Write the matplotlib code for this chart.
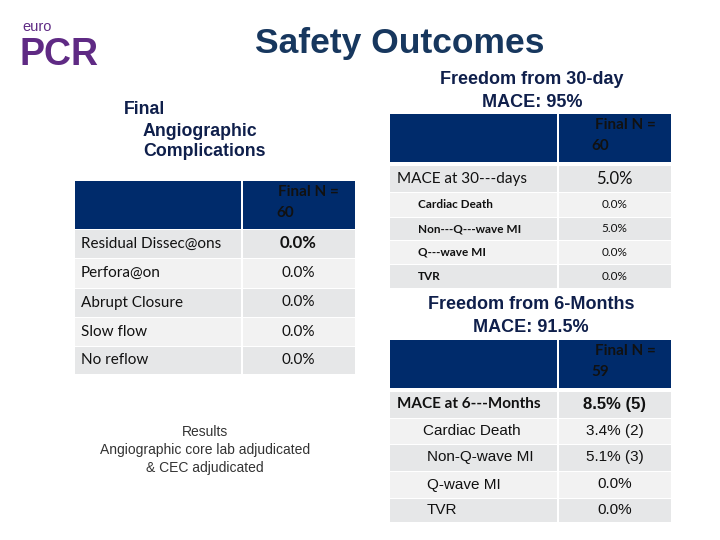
import matplotlib
matplotlib.use("Agg")
import matplotlib.pyplot as plt
from matplotlib.patches import Rectangle

# Slide text
title = "Safety Outcomes"
left_title = ["Final", "Angiographic", "Complications"]
top_title = "Freedom from 30-day\nMACE: 95%"
bottom_title = "Freedom from 6-Months\nMACE: 91.5%"
footnote = "Results\nAngiographic core lab adjudicated\n& CEC adjudicated"

# Left table: angiographic complications
angio_header = ["Final N =", "60"]
angio_labels = ["Residual Dissec@ons", "Perfora@on", "Abrupt Closure", "Slow flow", "No reflow"]
angio_values = ["0.0%", "0.0%", "0.0%", "0.0%", "0.0%"]

# Right top table: MACE at 30 days
mace30_header = ["Final N =", "60"]
mace30_labels = ["MACE at 30---days", "Cardiac Death", "Non---Q---wave MI", "Q---wave MI", "TVR"]
mace30_values = ["5.0%", "0.0%", "5.0%", "0.0%", "0.0%"]

# Right bottom table: MACE at 6 months
mace6_header = ["Final N =", "59"]
mace6_labels = ["MACE at 6---Months", "Cardiac Death", "Non-Q-wave MI", "Q-wave MI", "TVR"]
mace6_values = ["8.5% (5)", "3.4% (2)", "5.1% (3)", "0.0%", "0.0%"]

NAVY = "#002b6b"
DARK = "#0f1f4b"
ROW_A = "#e6e7e8"
ROW_B = "#f2f2f2"

fig = plt.figure(figsize=(7.2, 5.4), dpi=100)
ax = fig.add_axes([0, 0, 1, 1])
ax.set_xlim(0, 720)
ax.set_ylim(540, 0)
ax.axis("off")


def draw_table(x0, xm, x1, head, rows, header, labels, values, styles):
    # header band
    ax.add_patch(Rectangle((x0, head[0]), xm - x0 - 1, head[1] - head[0], color=NAVY, lw=0))
    ax.add_patch(Rectangle((xm + 1, head[0]), x1 - xm - 1, head[1] - head[0], color=NAVY, lw=0))
    hx1, hx2 = styles["header_x"]
    ax.text(hx1, head[0] + 11, header[0], color="#111111", fontsize=11, fontweight="bold",
            family="Lato", va="center", ha="left")
    ax.text(hx2, head[0] + 32, header[1], color="#111111", fontsize=11, fontweight="bold",
            family="Lato", va="center", ha="left")
    for i, (lab, val) in enumerate(zip(labels, values)):
        ya, yb = rows[i], rows[i + 1]
        col = ROW_A if i % 2 == 0 else ROW_B
        ax.add_patch(Rectangle((x0, ya + 1), xm - x0 - 1, yb - ya - 1, color=col, lw=0))
        ax.add_patch(Rectangle((xm + 1, ya + 1), x1 - xm - 1, yb - ya - 1, color=col, lw=0))
        st = styles["rows"][i]
        yc = (ya + yb) / 2
        ax.text(st["lx"], yc, lab, fontsize=st["lsize"], fontweight=st["lweight"],
                family=st["lfam"], color="#111111", va="center", ha="left")
        ax.text((xm + x1) / 2, yc, val, fontsize=st["vsize"], fontweight=st["vweight"],
                family=st["vfam"], color="#111111", va="center", ha="center")


def row_style(lx, lsize, lweight, lfam, vsize, vweight, vfam):
    return dict(lx=lx, lsize=lsize, lweight=lweight, lfam=lfam,
                vsize=vsize, vweight=vweight, vfam=vfam)


# Logo
ax.text(22, 31, "euro", color="#5f2a84", fontsize=10.5, family="Liberation Sans", va="baseline")
ax.text(19, 65, "PCR", color="#5f2a84", fontsize=27, fontweight="bold",
        family="Liberation Sans", va="baseline")

# Title
ax.text(400, 43, title, color="#17375e", fontsize=25.5, fontweight="bold",
        family="Liberation Sans", ha="center", va="center")

# Left block
for txt, x, y in zip(left_title, [124, 143, 143], [110, 131, 152]):
    ax.text(x, y, txt, color=DARK, fontsize=12.8, fontweight="bold",
            family="Liberation Sans", va="center")

left_styles = dict(header_x=(278, 276),
                   rows=[row_style(81, 11, "normal", "Lato", 12, "bold", "Lato")] +
                        [row_style(81, 11, "normal", "Lato", 11, "normal", "Lato")] * 4)
draw_table(75, 242, 355, (181, 229), [229, 258, 288, 317, 346, 374],
           angio_header, angio_labels, angio_values, left_styles)

ax.text(205, 450, footnote, color="#333333", fontsize=10, family="Liberation Sans",
        ha="center", va="center", linespacing=1.4)

# Right top block
ax.text(532, 91, top_title, color=DARK, fontsize=13, fontweight="bold",
        family="Liberation Sans", ha="center", va="center", linespacing=1.4)
top_styles = dict(header_x=(595, 591),
                  rows=[row_style(397, 11, "normal", "Lato", 12, "normal", "Lato")] +
                       [row_style(418, 8.5, "bold", "Lato", 8.5, "normal", "Lato")] * 4)
draw_table(390, 558, 671, (114, 162), [165, 192, 217, 240, 264, 288],
           mace30_header, mace30_labels, mace30_values, top_styles)

# Right bottom block
ax.text(531, 316, bottom_title, color=DARK, fontsize=13, fontweight="bold",
        family="Liberation Sans", ha="center", va="center", linespacing=1.4)
bottom_styles = dict(header_x=(595, 591),
                     rows=[row_style(397, 11, "bold", "Lato", 12, "bold", "Liberation Sans"),
                           row_style(423, 11, "normal", "Liberation Sans", 11, "normal", "Liberation Sans"),
                           row_style(427, 11, "normal", "Liberation Sans", 11, "normal", "Liberation Sans"),
                           row_style(427, 11, "normal", "Liberation Sans", 11, "normal", "Liberation Sans"),
                           row_style(427, 11, "normal", "Liberation Sans", 11, "normal", "Liberation Sans")])
draw_table(390, 558, 671, (340, 388), [391, 418, 444, 471, 498, 522],
           mace6_header, mace6_labels, mace6_values, bottom_styles)

fig.savefig("out.png", dpi=100, facecolor="white")
